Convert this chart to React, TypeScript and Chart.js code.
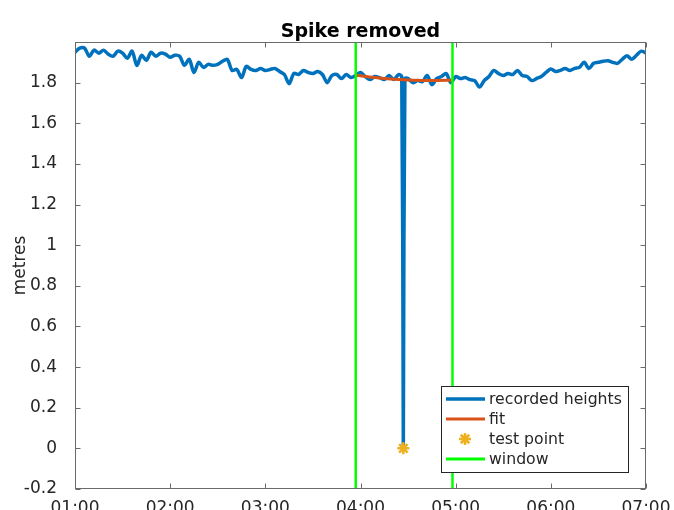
import React, { useEffect, useRef } from "react";
import { Chart, registerables } from "chart.js";

Chart.register(...registerables);

// recorded water heights (metres), one sample every 3 minutes from 01:00 to 07:00
const stepMinutes = 3;
const heights = [
  1.95, 1.97, 1.97, 1.93, 1.96, 1.945, 1.96, 1.94, 1.93, 1.955,
  1.945, 1.92, 1.955, 1.885, 1.935, 1.91, 1.95, 1.93, 1.945, 1.94,
  1.925, 1.935, 1.93, 1.885, 1.915, 1.85, 1.9, 1.875, 1.89, 1.885,
  1.89, 1.905, 1.915, 1.86, 1.865, 1.825, 1.88, 1.865, 1.86, 1.87,
  1.86, 1.865, 1.87, 1.855, 1.84, 1.795, 1.845, 1.84, 1.86, 1.85,
  1.845, 1.855, 1.84, 1.8, 1.835, 1.84, 1.82, 1.84, 1.825, 1.835,
  1.85, 1.83, 1.815, 1.83, 1.825, 1.815, 1.835, 1.815, 1.84, 0.0,
  1.82, 1.8, 1.81, 1.805, 1.835, 1.79, 1.82, 1.83, 1.845, 1.8,
  1.83, 1.82, 1.825, 1.815, 1.81, 1.778, 1.81, 1.83, 1.86, 1.845,
  1.835, 1.845, 1.84, 1.86, 1.835, 1.83, 1.81, 1.82, 1.83, 1.85,
  1.867, 1.855, 1.86, 1.87, 1.86, 1.87, 1.875, 1.9, 1.87, 1.895,
  1.9, 1.905, 1.908, 1.9, 1.895, 1.915, 1.932, 1.915, 1.935, 1.955,
  1.945,
];
// extra samples recorded right beside the spike (minutes after 01:00)
const extraTimes = [206, 208];
const extraHeights = [1.83, 1.82];

// local fit over the window
const fitTimes = [177, 189, 201, 213, 225, 238];
const fitHeights = [1.836, 1.825, 1.817, 1.812, 1.81, 1.812];

// test point
const testTimes = [207];
const testHeights = [0];

// window edges (minutes after 01:00)
const windowTimes = [177, 238];

const xTicks = [0, 60, 120, 180, 240, 300, 360];
const xTickLabels = ["01:00", "02:00", "03:00", "04:00", "05:00", "06:00", "07:00"];
const yTicks = [-0.2, 0, 0.2, 0.4, 0.6, 0.8, 1, 1.2, 1.4, 1.6, 1.8, 2];
const yTickLabels = ["-0.2", "0", "0.2", "0.4", "0.6", "0.8", "1", "1.2", "1.4", "1.6", "1.8", ""];

const legendLabels = ["recorded heights", "fit", "test point", "window"];

const BLUE = "#0072BD";
const ORANGE = "#D95319";
const YELLOW = "#EDB120";
const GREEN = "#00FF00";
const AXIS = "#6a6a6a";
const TEXT = "#262626";
const FONT = "'DejaVu Sans', sans-serif";

function drawStar(ctx: CanvasRenderingContext2D, x: number, y: number, r: number) {
  ctx.beginPath();
  for (let k = 0; k < 4; k++) {
    const a = (k * Math.PI) / 4;
    ctx.moveTo(x + Math.sin(a) * r, y - Math.cos(a) * r);
    ctx.lineTo(x - Math.sin(a) * r, y + Math.cos(a) * r);
  }
  ctx.stroke();
}

const decorPlugin = {
  id: "decor",
  afterDatasetsDraw(chart: any) {
    const { ctx, chartArea } = chart;
    const xs = chart.scales.x;
    const ys = chart.scales.y;
    const L = Math.round(chartArea.left) + 0.5;
    const R = Math.round(chartArea.right) - 0.5;
    const T = Math.round(chartArea.top) + 0.5;
    const B = Math.round(chartArea.bottom) - 0.5;
    ctx.save();
    ctx.strokeStyle = AXIS;
    ctx.lineWidth = 1;
    ctx.strokeRect(L, T, R - L, B - T);
    ctx.beginPath();
    const tl = 5;
    xTicks.forEach((v) => {
      const px = Math.round(xs.getPixelForValue(v)) + 0.5;
      ctx.moveTo(px, B);
      ctx.lineTo(px, B - tl);
      ctx.moveTo(px, T);
      ctx.lineTo(px, T + tl);
    });
    yTicks.forEach((v) => {
      const py = Math.round(ys.getPixelForValue(v)) + 0.5;
      ctx.moveTo(L, py);
      ctx.lineTo(L + tl, py);
      ctx.moveTo(R, py);
      ctx.lineTo(R - tl, py);
    });
    ctx.stroke();

    // title
    ctx.fillStyle = "#000";
    ctx.font = `bold 19px ${FONT}`;
    ctx.textAlign = "center";
    ctx.textBaseline = "alphabetic";
    ctx.fillText("Spike removed", (chartArea.left + chartArea.right) / 2, 37);

    // y axis title
    ctx.save();
    ctx.translate(25, (chartArea.top + chartArea.bottom) / 2);
    ctx.rotate(-Math.PI / 2);
    ctx.fillStyle = TEXT;
    ctx.font = `17px ${FONT}`;
    ctx.textAlign = "center";
    ctx.textBaseline = "alphabetic";
    ctx.fillText("metres", 0, 0);
    ctx.restore();

    // legend
    const bx = 441.5, by = 386.5, bw = 187, bh = 86;
    ctx.fillStyle = "#fff";
    ctx.fillRect(bx, by, bw, bh);
    ctx.strokeStyle = TEXT;
    ctx.lineWidth = 1;
    ctx.strokeRect(bx, by, bw, bh);
    const colors = [BLUE, ORANGE, YELLOW, GREEN];
    const widths = [3.5, 3, 2.5, 3];
    ctx.font = `15.7px ${FONT}`;
    ctx.textAlign = "left";
    ctx.textBaseline = "middle";
    legendLabels.forEach((lab, k) => {
      const cy = 399 + k * 20;
      ctx.strokeStyle = colors[k];
      ctx.lineWidth = widths[k];
      ctx.lineCap = "butt";
      if (k === 2) {
        drawStar(ctx, 465, cy, 6);
      } else {
        ctx.beginPath();
        ctx.moveTo(446, cy);
        ctx.lineTo(485, cy);
        ctx.stroke();
      }
      ctx.fillStyle = TEXT;
      ctx.fillText(lab, 489, cy + 1);
    });
    ctx.restore();
  },
};

export default function App() {
  const ref = useRef<HTMLCanvasElement | null>(null);

  useEffect(() => {
    if (!ref.current) return;
    const recorded = heights
      .map((h, i) => ({ x: i * stepMinutes, y: h }))
      .concat(extraTimes.map((t, i) => ({ x: t, y: extraHeights[i] })))
      .sort((a, b) => a.x - b.x);
    const fit = fitTimes.map((t, i) => ({ x: t, y: fitHeights[i] }));
    const test = testTimes.map((t, i) => ({ x: t, y: testHeights[i] }));
    const win: any[] = [];
    windowTimes.forEach((t, i) => {
      if (i > 0) win.push({ x: t, y: null });
      win.push({ x: t, y: yTicks[0] });
      win.push({ x: t, y: yTicks[yTicks.length - 1] });
    });

    const chart = new Chart(ref.current, {
      type: "line",
      data: {
        datasets: [
          {
            label: legendLabels[0],
            data: recorded,
            borderColor: BLUE,
            borderWidth: 3.5,
            borderJoinStyle: "round",
            borderCapStyle: "round",
            pointRadius: 0,
            tension: 0.3,
            order: 3,
          },
          {
            label: legendLabels[1],
            data: fit,
            borderColor: ORANGE,
            borderWidth: 3,
            pointRadius: 0,
            cubicInterpolationMode: "monotone",
            order: 2,
          },
          {
            label: legendLabels[2],
            data: test,
            showLine: false,
            borderColor: YELLOW,
            backgroundColor: YELLOW,
            pointStyle: "star",
            pointRadius: 6,
            pointBorderWidth: 2.5,
            order: 1,
          },
          {
            label: legendLabels[3],
            data: win,
            borderColor: GREEN,
            borderWidth: 2.5,
            pointRadius: 0,
            spanGaps: false,
            order: 0,
          },
        ] as any,
      },
      options: {
        animation: false,
        responsive: false,
        maintainAspectRatio: false,
        layout: { padding: { top: 42, right: 28, left: 0, bottom: 0 } },
        plugins: {
          legend: { display: false },
          title: { display: false },
          tooltip: { enabled: false },
        },
        scales: {
          x: {
            type: "linear",
            min: xTicks[0],
            max: xTicks[xTicks.length - 1],
            grid: { display: false },
            border: { display: false },
            afterBuildTicks: (s: any) => {
              s.ticks = xTicks.map((v) => ({ value: v }));
            },
            afterFit: (s: any) => {
              s.height = 21;
            },
            ticks: {
              color: TEXT,
              font: { family: FONT, size: 17 },
              padding: 1,
              maxRotation: 0,
              autoSkip: false,
              callback: (v: any) => {
                const i = xTicks.indexOf(Number(v));
                return i >= 0 ? xTickLabels[i] : "";
              },
            },
          },
          y: {
            type: "linear",
            min: yTicks[0],
            max: yTicks[yTicks.length - 1],
            grid: { display: false },
            border: { display: false },
            afterBuildTicks: (s: any) => {
              s.ticks = yTicks.map((v) => ({ value: v }));
            },
            afterFit: (s: any) => {
              s.width = 75;
            },
            ticks: {
              color: TEXT,
              font: { family: FONT, size: 17 },
              padding: 10,
              autoSkip: false,
              callback: (v: any) => {
                const i = yTicks.findIndex((t) => Math.abs(t - Number(v)) < 1e-9);
                return i >= 0 ? yTickLabels[i] : "";
              },
            },
          },
        },
      } as any,
      plugins: [decorPlugin],
    });
    return () => chart.destroy();
  }, []);

  return (
    <div style={{ position: "fixed", left: 0, top: 0, width: 674, height: 510, background: "#fff" }}>
      <canvas ref={ref} width={674} height={510} style={{ width: 674, height: 510 }} />
    </div>
  );
}
